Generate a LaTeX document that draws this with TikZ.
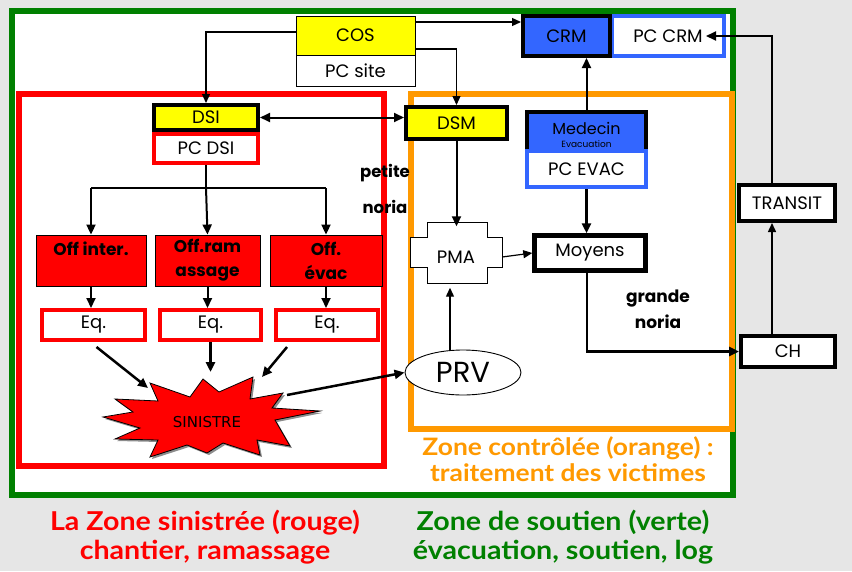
\documentclass[tikz,border=0pt]{standalone}
\usepackage{fontspec}
\setmainfont{Poppins}
\newfontfamily\capfont[FakeStretch=1.1]{Lato}
\newfontfamily\sinfont{DejaVu Sans}
\usetikzlibrary{arrows.meta,calc,shapes.geometric}
\definecolor{zgreen}{HTML}{008000}
\definecolor{zred}{HTML}{FF0000}
\definecolor{zorange}{HTML}{FF9900}
\definecolor{zblue}{HTML}{3366FF}
\definecolor{zyellow}{HTML}{FFFF00}
\definecolor{bgray}{HTML}{E6E6E6}
\begin{document}
\begin{tikzpicture}[x=1pt,y=-1pt,
  sz/.style 2 args={minimum width=#1, minimum height=#2},
  box/.style={rectangle, inner sep=0pt, font=\fontsize{18}{21}\selectfont, text=black},
  thinbox/.style={box, draw=black, line width=0.9pt},
  thickbox/.style={box, draw=black, line width=4pt},
  redbox/.style={box, draw=zred, line width=4pt, fill=white},
  bluebox/.style={box, draw=zblue, line width=4pt, fill=white},
  offbox/.style={box, draw=black, line width=0.9pt, fill=zred, font=\bfseries\fontsize{17}{24}\selectfont, align=center},
  conn/.style={line width=2pt, -{Triangle[length=10pt,width=9pt]}},
  thinconn/.style={line width=1.2pt, -{Triangle[length=9pt,width=8pt]}},
  zone/.style={line width=6pt},
  lbl/.style={font=\bfseries\fontsize{16.5}{19}\selectfont, inner sep=0pt},
  zonetxt/.style={font=\capfont\bfseries\fontsize{26}{29}\selectfont, align=center, inner sep=0pt}
]
\useasboundingbox (0,0) rectangle (852,571);
\fill[bgray] (0,0) rectangle (852,571);
% zones
\draw[zone, draw=zgreen, fill=white] (12,10.5) rectangle (733,495);
\draw[zone, draw=zred] (18.5,94) rectangle (384,466);
\draw[zone, draw=zorange] (411,94) rectangle (732,429);

% top boxes
\node[thinbox, fill=zyellow, sz={119pt}{39pt}] (cos) at (355.5,35.5) {COS};
\node[thinbox, fill=white, sz={119pt}{31pt}] (pcsite) at (355.5,70.5) {PC site};
\node[bluebox, sz={112pt}{40pt}] (pccrm) at (668,36) {PC CRM};
\node[thickbox, fill=zblue, sz={87pt}{40pt}] (crm) at (566.5,36) {CRM};

% DSI / DSM
\node[redbox, sz={104pt}{29pt}] (pcdsi) at (206,148.5) {PC DSI};
\node[thickbox, fill=zyellow, sz={104pt}{25pt}] (dsi) at (206,117.5) {DSI};
\node[thickbox, fill=zyellow, sz={101pt}{32pt}] (dsm) at (456.5,123) {DSM};

% Medecin / PC EVAC
\node[box, fill=zblue, sz={119pt}{39pt}] (medecin) at (586.5,131.5) {};
\draw[line width=4pt, line cap=rect] (medecin.south west) |- (medecin.north east) -- (medecin.south east);
\node[box, font=\fontsize{16}{18}\selectfont] (medtxt) at (586.5,128) {Medecin};
\node[box, font=\fontsize{9}{10}\selectfont] (evtxt) at (586.5,144) {Evacuation};
\node[bluebox, sz={119pt}{36pt}] (pcevac) at (586.5,169) {PC EVAC};

% PMA
\fill[white] (427,222) -- (487,222) -- (487,237) -- (502,237) -- (502,267) -- (487,267) -- (487,283) -- (427,283) -- (427,267) -- (410,267) -- (410,237) -- (427,237) -- cycle;
\draw[line width=0.9pt] (427,222) -- (487,222) -- (487,237) -- (502,237) -- (502,267) -- (487,267) -- (487,283) -- (427,283) -- (427,267) -- (410,267) -- (410,237) -- (427,237) -- cycle;
\node[box, sz={92pt}{61pt}] (pma) at (456,257) {PMA};

\node[thickbox, fill=white, line width=4.5pt, sz={111pt}{35pt}] (moyens) at (590,253) {Moyens};
\node[thickbox, fill=white, sz={96pt}{36pt}] (transit) at (787,203) {TRANSIT};
\node[thickbox, fill=white, sz={94pt}{31pt}] (ch) at (788,351.5) {CH};

% Off boxes
\node[offbox, sz={110pt}{51pt}] (off1) at (91,260.5) {Off inter.\\\mbox{}};
\node[offbox, sz={105pt}{51pt}] (off2) at (207.5,260.5) {Off.ram\\assage};
\node[offbox, sz={112pt}{51pt}] (off3) at (326,260.5) {Off.\\évac};

% Eq boxes
\node[redbox, sz={103pt}{30pt}] (eq1) at (93.5,325) {Eq.};
\node[redbox, sz={101pt}{30pt}] (eq2) at (210.5,325) {Eq.};
\node[redbox, sz={102pt}{30pt}] (eq3) at (327,325) {Eq.};

% SINISTRE starburst
\begin{scope}[shift={(2,2)}]
\fill[black!45] (115,399) -- (158,401) -- (150,383) -- (190,397) -- (203,379) -- (219,392) -- (253,377) -- (250,399) -- (283,393) -- (272,408) -- (320,411) -- (275,420) -- (290,446) -- (257,440) -- (260,455) -- (223,443) -- (207,453) -- (187,445) -- (150,457) -- (158,440) -- (115,439) -- (140,428) -- (103,417) -- (133,412) -- cycle;
\end{scope}
\draw[fill=zred, line width=0.8pt] (115,399) -- (158,401) -- (150,383) -- (190,397) -- (203,379) -- (219,392) -- (253,377) -- (250,399) -- (283,393) -- (272,408) -- (320,411) -- (275,420) -- (290,446) -- (257,440) -- (260,455) -- (223,443) -- (207,453) -- (187,445) -- (150,457) -- (158,440) -- (115,439) -- (140,428) -- (103,417) -- (133,412) -- cycle;
\node[box, font=\sinfont\fontsize{15}{18}\selectfont] (sin) at (207,422) {SINISTRE};
\coordinate (sA) at (148,388);
\coordinate (sB) at (207,372);
\coordinate (sC) at (262,377);
\coordinate (sE) at (287,395);

% PRV
\node[ellipse, draw=black, line width=0.9pt, fill=white, inner sep=0pt, minimum width=116pt, minimum height=45pt, font=\fontsize{29}{30}\selectfont] (prv) at (463,372.5) {PRV};

% labels
\node[lbl] (pet) at (385,173) {petite};
\node[lbl] (nor1) at (385,207) {noria};
\node[lbl, font=\bfseries\fontsize{17}{19}\selectfont] (gra) at (658,299) {grande};
\node[lbl, font=\bfseries\fontsize{17}{19}\selectfont] (nor2) at (658,322) {noria};

\node[zonetxt, font=\capfont\bfseries\fontsize{24}{26}\selectfont, text=zorange] (zc) at (568,459) {Zone contrôlée (orange) :\\traitement des victimes};
\node[zonetxt, text=zred] (zs) at (205,537) {La Zone sinistrée (rouge)\\chantier, ramassage};
\node[zonetxt, text=zgreen] (zv) at (563,537) {Zone de soutien (verte)\\évacuation, soutien, log};

% connectors
\draw[thinconn] ([yshift=3.5pt]cos.west) -| (dsi.north);
\draw[thinconn] ([yshift=13.5pt]cos.east) -- ([yshift=13.5pt]cos.east -| crm.west);
\draw[thinconn] ([yshift=-13.5pt]cos.east) -| (dsm.north);
\draw[conn] (medecin.north) -- (medecin.north |- crm.south);
\draw[conn, {Triangle[length=10pt,width=9pt]}-{Triangle[length=10pt,width=9pt]}] (dsi.east) -- (dsi.east -| dsm.west);
\coordinate (br) at ($(pcdsi.south)+(0,23)$);
\draw[line width=2pt] (pcdsi.south) -- (br);
\draw[line width=2pt] (br -| off1.north) -- (br -| off3.north);
\draw[conn] (br -| off1.north) -- (off1.north);
\draw[conn] (br) -- (off2.north);
\draw[conn] (br -| off3.north) -- (off3.north);
\draw[conn] (off1.south) -- (off1.south |- eq1.north);
\draw[conn] (off2.south) -- (off2.south |- eq2.north);
\draw[conn] (off3.south) -- (off3.south |- eq3.north);
\draw[conn, line width=2.5pt] ($(eq1.south)+(3,5)$) -- (sA);
\draw[conn, line width=2.5pt] (eq2.south) -- (eq2.south |- sB);
\draw[conn, line width=2.5pt] ($(eq3.south)+(-40,5)$) -- (sC);
\draw[conn, line width=2.5pt] (sE) -- (prv.west);
\draw[thinconn] ([xshift=-13pt]prv.north) -- ([xshift=-13pt]prv.north |- pma.south);
\draw[conn] (dsm.south) -- (dsm.south |- pma.north);
\draw[thinconn] (pma.east) -- (moyens.west);
\draw[conn, line width=2.5pt] (pcevac.south) -- (pcevac.south |- moyens.north);
\draw[conn, line width=2.5pt] ([xshift=-3pt]moyens.south) |- (ch.west);
\draw[thinconn, line width=1.5pt] ([xshift=-16pt]ch.north) -- ([xshift=-16pt]ch.north |- transit.south);
\draw[conn] ([xshift=-15pt]transit.north) |- ([xshift=-20pt]pccrm.east);
\end{tikzpicture}
\end{document}
